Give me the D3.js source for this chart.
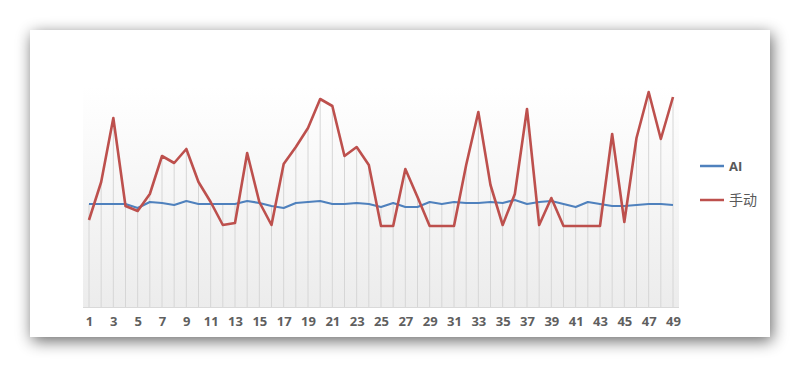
<!DOCTYPE html>
<html>
<head>
<meta charset="utf-8">
<script src="https://cdnjs.cloudflare.com/ajax/libs/d3/7.8.5/d3.min.js"></script>
<style>
	body { margin: 0; background: #ffffff; }
	svg { display: block; }
</style>
</head>
<body>
<div id="chart"></div>
<script>
const categories = d3.range(1, 50);
const tickLabels = categories.filter((d) => d % 2 === 1);
const seriesNames = ["AI", "手动"];
const aiValues = [103, 103, 103, 103, 99, 105, 104, 102, 106, 103, 103, 103, 103, 106, 104, 101, 99, 104, 105, 106, 103, 103, 104, 103, 100, 104, 100, 100, 105, 103, 105, 104, 104, 105, 104, 107, 103, 105, 106, 103, 100, 105, 103, 101, 101, 102, 103, 103, 102];
const manualValues = [87, 125, 189, 101, 96, 113, 151, 144, 158, 125, 105, 82, 84, 154, 105, 82, 143, 160, 179, 208, 201, 151, 160, 142, 81, 81, 138, 110, 81, 81, 81, 142, 195, 122, 82, 113, 198, 82, 109, 81, 81, 81, 81, 173, 85, 169, 215, 168, 210];

const width = 800;
const height = 367;
const colors = ["#4f81bd", "#bd504d"];

const svg = d3
	.select("#chart")
	.append("svg")
	.attr("width", width)
	.attr("height", height);

const defs = svg.append("defs");

const shadow = defs.append("filter").attr("id", "shadow").attr("x", "-10%").attr("y", "-20%").attr("width", "120%").attr("height", "140%");
shadow.append("feGaussianBlur").attr("in", "SourceAlpha").attr("stdDeviation", 8);
shadow.append("feOffset").attr("dx", 2).attr("dy", 4).attr("result", "blur");
shadow.append("feComponentTransfer").append("feFuncA").attr("type", "linear").attr("slope", 0.6);
const merge = shadow.append("feMerge");
merge.append("feMergeNode");
merge.append("feMergeNode").attr("in", "SourceGraphic");

const grad = defs.append("linearGradient").attr("id", "plotbg").attr("x1", 0).attr("y1", 0).attr("x2", 0).attr("y2", 1);
grad.append("stop").attr("offset", "0%").attr("stop-color", "#ffffff");
grad.append("stop").attr("offset", "100%").attr("stop-color", "#ececec");

// chart panel
svg.append("rect")
	.attr("x", 30)
	.attr("y", 30)
	.attr("width", 740)
	.attr("height", 307)
	.attr("fill", "#ffffff")
	.attr("filter", "url(#shadow)");

const plot = { left: 83, right: 679, top: 86, bottom: 307 };

const x = d3
	.scalePoint()
	.domain(categories)
	.range([89, 673]);

const y = d3
	.scaleLinear()
	.domain([0, 221])
	.range([plot.bottom, plot.top]);

svg.append("rect")
	.attr("x", plot.left)
	.attr("y", plot.top)
	.attr("width", plot.right - plot.left)
	.attr("height", plot.bottom - plot.top)
	.attr("fill", "url(#plotbg)");

// drop lines
svg.append("g")
	.selectAll("line")
	.data(categories)
	.enter()
	.append("line")
	.attr("x1", (d) => x(d))
	.attr("x2", (d) => x(d))
	.attr("y1", (d, i) => y(Math.max(aiValues[i], manualValues[i])))
	.attr("y2", plot.bottom)
	.attr("stroke", "#d6d6d6")
	.attr("stroke-width", 1);

svg.append("line")
	.attr("x1", plot.left)
	.attr("x2", plot.right)
	.attr("y1", plot.bottom + 0.5)
	.attr("y2", plot.bottom + 0.5)
	.attr("stroke", "#d9d9d9");

const line = d3
	.line()
	.x((d, i) => x(categories[i]))
	.y((d) => y(d));

svg.append("path")
	.datum(aiValues)
	.attr("d", line)
	.attr("fill", "none")
	.attr("stroke", colors[0])
	.attr("stroke-width", 2.2)
	.attr("stroke-linejoin", "round");

svg.append("path")
	.datum(manualValues)
	.attr("d", line)
	.attr("fill", "none")
	.attr("stroke", colors[1])
	.attr("stroke-width", 2.6)
	.attr("stroke-linejoin", "round");

const xAxis = d3.axisBottom(x).tickValues(tickLabels).tickSize(0).tickPadding(10);

const axisG = svg.append("g").attr("transform", `translate(0,${plot.bottom})`).call(xAxis);
axisG.select(".domain").remove();
axisG.selectAll("text")
	.style("font-family", "'Open Sans', 'Liberation Sans', sans-serif")
	.style("font-size", "13px")
	.style("font-weight", "bold")
	.attr("fill", "#5f5f5f");

// legend
const legend = svg
	.append("g")
	.selectAll("g")
	.data(seriesNames)
	.enter()
	.append("g")
	.attr("transform", (d, i) => `translate(700,${166 + i * 34})`);

legend.append("line")
	.attr("x1", 0)
	.attr("x2", 24)
	.attr("stroke", (d, i) => colors[i])
	.attr("stroke-width", 2.5);

legend.append("text")
	.attr("x", 29)
	.attr("dy", "0.35em")
	.style("font-family", "'Open Sans', 'Noto Sans CJK SC', sans-serif")
	.style("font-size", (d, i) => (i === 0 ? "13px" : "14px"))
	.style("font-weight", (d, i) => (i === 0 ? "bold" : "normal"))
	.attr("fill", "#595959")
	.text((d) => d);
</script>
</body>
</html>
